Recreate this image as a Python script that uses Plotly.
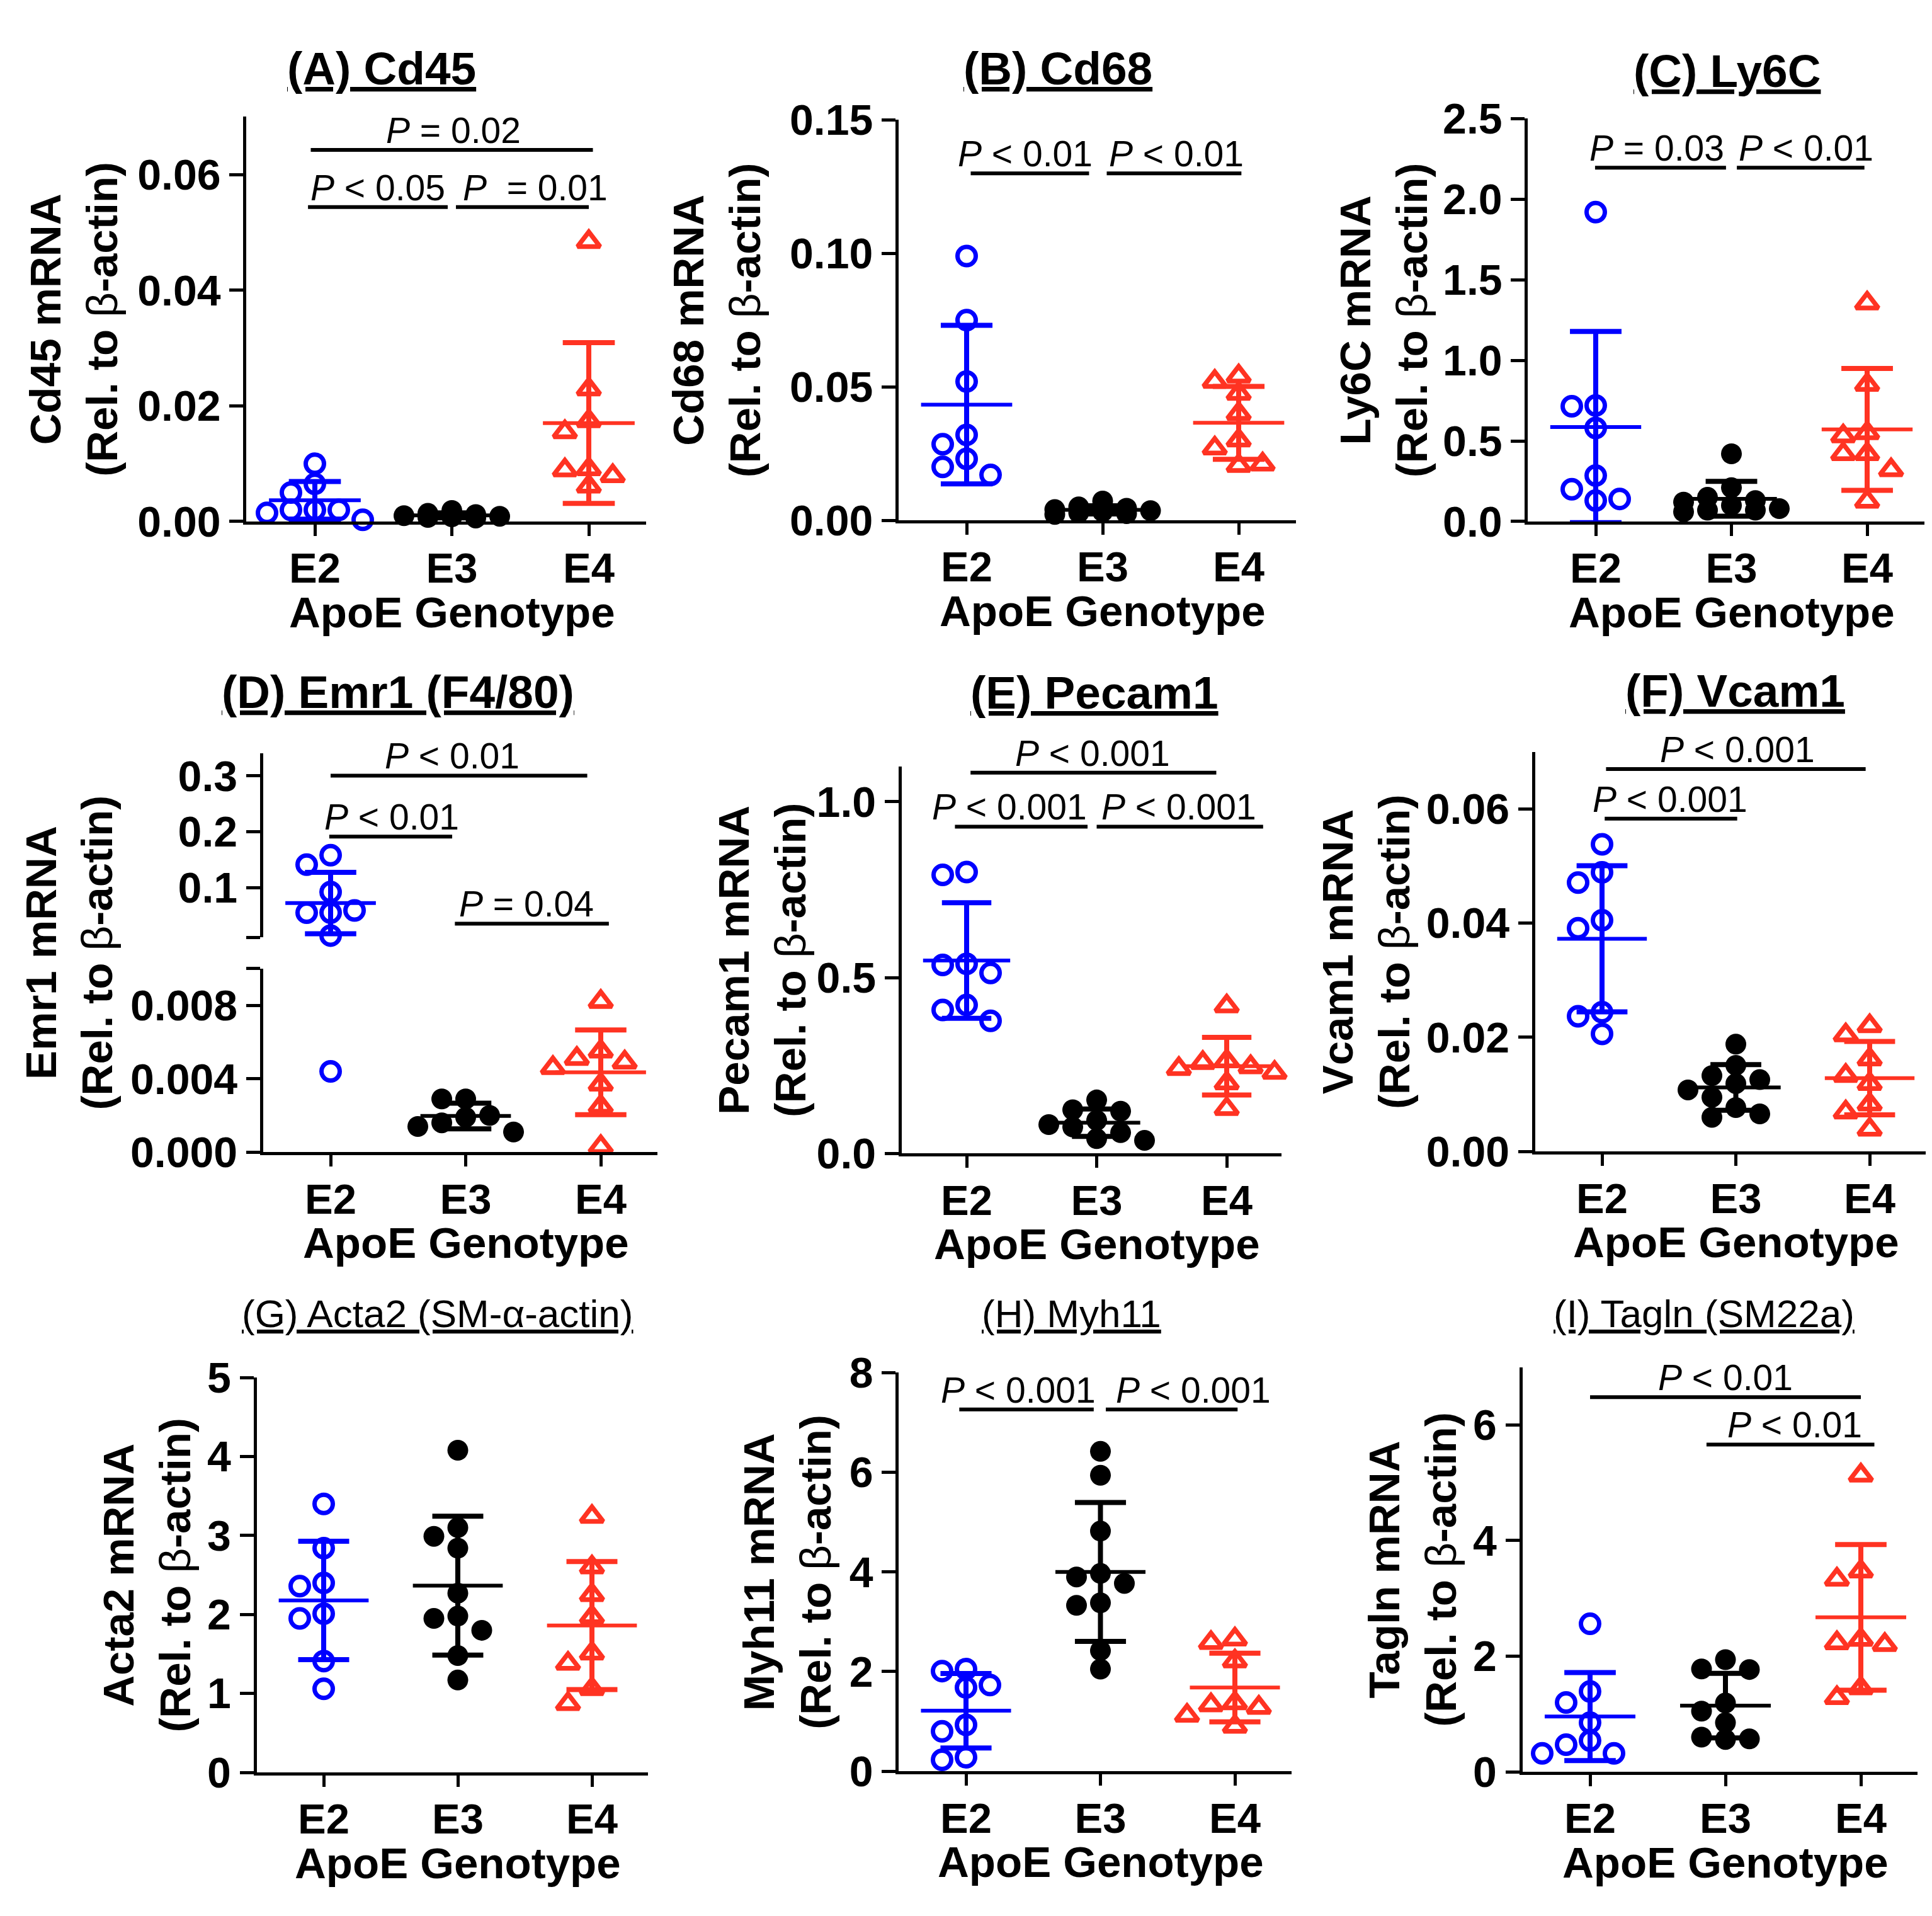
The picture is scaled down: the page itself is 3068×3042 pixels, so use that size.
import math
import plotly.graph_objects as go

W, H = 3068, 3042
FONT = "Liberation Sans, Arial, Helvetica, sans-serif"
BLUE, BLACK, RED = "#0000ff", "#000000", "#ff3322"
GROUPS = ["E2", "E3", "E4"]

# ---- values (rel. to beta-actin) ----
cd45_e2 = [0.0100, 0.0065, 0.0050, 0.0020, 0.0020, 0.0020, 0.0015, 0.0003]
cd45_e3 = [0.0019, 0.0014, 0.0012, 0.0010, 0.0009, 0.0008, 0.0007, 0.0006]
cd45_e4 = [0.0484, 0.0229, 0.0174, 0.0155, 0.0091, 0.0089, 0.0079, 0.0061]
cd45_pairs = [(0, 2), (0, 1), (1, 2)]
cd45_p = ["= 0.02", "&lt; 0.05", "&nbsp;= 0.01"]

cd68_e2 = [0.099, 0.075, 0.052, 0.032, 0.0285, 0.023, 0.020, 0.017]
cd68_e3 = [0.0072, 0.0050, 0.0045, 0.0040, 0.0036, 0.0032, 0.0028, 0.0025, 0.0022]
cd68_e4 = [0.054, 0.052, 0.0475, 0.040, 0.030, 0.027, 0.0205, 0.021]
cd68_pairs = [(0, 1), (1, 2)]
cd68_p = ["&lt; 0.01", "&lt; 0.01"]

ly6c_e2 = [1.92, 0.72, 0.715, 0.58, 0.285, 0.20, 0.13, 0.14]
ly6c_e3 = [0.42, 0.21, 0.15, 0.13, 0.12, 0.10, 0.08, 0.07, 0.07, 0.06]
ly6c_e4 = [1.355, 0.85, 0.55, 0.53, 0.42, 0.42, 0.32, 0.125]
ly6c_pairs = [(0, 1), (1, 2)]
ly6c_p = ["= 0.03", "&lt; 0.01"]

emr1_e2 = [0.158, 0.141, 0.092, 0.055, 0.055, 0.059, 0.014, 0.0044]
emr1_e3 = [0.0029, 0.0029, 0.0020, 0.0019, 0.0016, 0.0014, 0.0011]
emr1_e4 = [0.0082, 0.0055, 0.0051, 0.0049, 0.0046, 0.0037, 0.0025, 0.0003]
emr1_pairs = [(0, 2), (0, 1), (1, 2)]
emr1_p = ["&lt; 0.01", "&lt; 0.01", "= 0.04"]

pecam1_e2 = [0.80, 0.792, 0.539, 0.536, 0.513, 0.422, 0.408, 0.377]
pecam1_e3 = [0.152, 0.124, 0.12, 0.094, 0.082, 0.075, 0.059, 0.042, 0.037]
pecam1_e4 = [0.419, 0.263, 0.258, 0.246, 0.241, 0.23, 0.20, 0.127]
pecam1_pairs = [(0, 2), (0, 1), (1, 2)]
pecam1_p = ["&lt; 0.001", "&lt; 0.001", "&lt; 0.001"]

vcam1_e2 = [0.0538, 0.0489, 0.0471, 0.0405, 0.0391, 0.0244, 0.0237, 0.0206]
vcam1_e3 = [0.0188, 0.0151, 0.0133, 0.0126, 0.0119, 0.0108, 0.0095, 0.0077, 0.0066, 0.0060]
vcam1_e4 = [0.0220, 0.0204, 0.0162, 0.0133, 0.0119, 0.0083, 0.0069, 0.0039]
vcam1_pairs = [(0, 2), (0, 1)]
vcam1_p = ["&lt; 0.001", "&lt; 0.001"]

acta2_e2 = [3.40, 2.84, 2.40, 2.36, 2.01, 1.95, 1.41, 1.06]
acta2_e3 = [4.08, 3.10, 2.99, 2.84, 2.27, 1.98, 1.95, 1.80, 1.48, 1.17]
acta2_e4 = [3.24, 2.60, 2.25, 1.97, 1.51, 1.38, 1.06, 0.87]

myh11_e2 = [2.05, 2.01, 1.73, 1.68, 0.93, 0.80, 0.28, 0.23]
myh11_e3 = [6.42, 5.94, 4.82, 3.97, 3.90, 3.77, 3.38, 3.33, 2.42, 2.05]
myh11_e4 = [2.65, 2.58, 2.21, 1.37, 1.33, 1.28, 1.12, 0.90]
myh11_pairs = [(0, 1), (1, 2)]
myh11_p = ["&lt; 0.001", "&lt; 0.001"]

tagln_e2 = [2.56, 1.39, 1.20, 0.85, 0.54, 0.47, 0.32, 0.32]
tagln_e3 = [1.94, 1.78, 1.77, 1.19, 1.05, 0.85, 0.60, 0.57, 0.56]
tagln_e4 = [5.13, 3.47, 3.33, 2.29, 2.23, 2.20, 1.45, 1.28]
tagln_pairs = [(0, 2), (1, 2)]
tagln_p = ["&lt; 0.01", "&lt; 0.01"]


def seg(lo, hi, top, bot, ticks, labels):
    return dict(rng=(lo, hi), top=top, bot=bot, ticks=ticks, labels=labels)


def fmt(vals, d):
    return [f"{v:.{d}f}" for v in vals]


# layout of each panel, in page pixels; brk = (line x0, line x1, line y px, text x)
panels = [
    dict(title="(A) Cd45", gene="Cd45", data=(cd45_e2, cd45_e3, cd45_e4),
         pairs=cd45_pairs, pvals=cd45_p,
         brk=[(-0.03, 2.03, 197, 1.01), (-0.05, 0.97, 290, 0.46), (1.03, 2.0, 290, 1.61)],
         x0=492, sp=217.5, tx=598, ty=64, yt=110, row3=False,
         segs=[seg(0, 0.07, 143, 802, [0, 0.02, 0.04, 0.06], fmt([0, 0.02, 0.04, 0.06], 2))]),
    dict(title="(B) Cd68", gene="Cd68", data=(cd68_e2, cd68_e3, cd68_e4),
         pairs=cd68_pairs, pvals=cd68_p,
         brk=[(0.03, 0.90, 235, 0.43), (1.03, 2.02, 235, 1.54)],
         x0=1527, sp=216, tx=1672, ty=64, yt=1130, row3=False,
         segs=[seg(0, 0.15, 148, 800, [0, 0.05, 0.10, 0.15], fmt([0, 0.05, 0.10, 0.15], 2))]),
    dict(title="(C) Ly6C", gene="Ly6C", data=(ly6c_e2, ly6c_e3, ly6c_e4),
         pairs=ly6c_pairs, pvals=ly6c_p,
         brk=[(-0.005, 0.96, 226, 0.45), (1.04, 1.98, 226, 1.55)],
         x0=2526, sp=215.5, tx=2734, ty=68, yt=2189, row3=False,
         segs=[seg(0, 2.5, 146, 802, [0, 0.5, 1, 1.5, 2, 2.5], fmt([0, 0.5, 1, 1.5, 2, 2.5], 1))]),
    dict(title="(D) Emr1 (F4/80)", gene="Emr1", data=(emr1_e2, emr1_e3, emr1_e4),
         pairs=emr1_pairs, pvals=emr1_p,
         brk=[(0.0, 1.9, 1216, 0.90), (-0.01, 0.9, 1315, 0.45), (0.92, 2.06, 1457, 1.45)],
         x0=517, sp=214.5, tx=624, ty=1079, yt=102, row3=False,
         segs=[seg(0, 0.010, 1530, 1829, [0, 0.004, 0.008, 0.010], ["0.000", "0.004", "0.008", ""]),
               seg(0.011, 0.341, 1179, 1479, [0.011, 0.1, 0.2, 0.3], ["", "0.1", "0.2", "0.3"])]),
    dict(title="(E) Pecam1", gene="Pecam1", data=(pecam1_e2, pecam1_e3, pecam1_e4),
         pairs=pecam1_pairs, pvals=pecam1_p,
         brk=[(0.03, 1.92, 1211, 0.97), (-0.09, 0.93, 1299, 0.33), (1.0, 2.28, 1299, 1.63)],
         x0=1527, sp=206.5, tx=1730, ty=1081, yt=1202, row3=False,
         segs=[seg(0, 1.1, 1201, 1831, [0, 0.5, 1.0], fmt([0, 0.5, 1.0], 1))]),
    dict(title="(F) Vcam1", gene="Vcam1", data=(vcam1_e2, vcam1_e3, vcam1_e4),
         pairs=vcam1_pairs, pvals=vcam1_p,
         brk=[(0.03, 1.97, 1205, 1.01), (0.02, 1.01, 1286, 0.51)],
         x0=2536, sp=212.5, tx=2747, ty=1077, yt=2162, row3=False,
         segs=[seg(0, 0.07, 1177, 1828, [0, 0.02, 0.04, 0.06], fmt([0, 0.02, 0.04, 0.06], 2))]),
    dict(title="(G) Acta2 (SM-\u03b1-actin)", gene="Acta2", data=(acta2_e2, acta2_e3, acta2_e4),
         pairs=[], pvals=[], brk=[],
         x0=506, sp=213, tx=686, ty=2092, yt=226, row3=True,
         segs=[seg(0, 5, 2196, 2839, [0, 1, 2, 3, 4, 5], fmt([0, 1, 2, 3, 4, 5], 0))]),
    dict(title="(H) Myh11", gene="Myh11", data=(myh11_e2, myh11_e3, myh11_e4),
         pairs=myh11_pairs, pvals=myh11_p,
         brk=[(-0.05, 0.95, 2248, 0.39), (1.04, 2.02, 2248, 1.69)],
         x0=1526, sp=213.5, tx=1693, ty=2092, yt=1243, row3=True,
         segs=[seg(0, 8, 2188, 2837, [0, 2, 4, 6, 8], fmt([0, 2, 4, 6, 8], 0))]),
    dict(title="(I) Tagln (SM22a)", gene="Tagln", data=(tagln_e2, tagln_e3, tagln_e4),
         pairs=tagln_pairs, pvals=tagln_p,
         brk=[(0.0, 2.0, 2228, 1.0), (0.86, 2.1, 2305, 1.51)],
         x0=2517, sp=215, tx=2698, ty=2092, yt=2236, row3=True,
         segs=[seg(0, 7, 2179, 2838, [0, 2, 4, 6], fmt([0, 2, 4, 6], 0))]),
]

MARKERS = [
    dict(symbol="circle-open", size=29, color=BLUE, line=dict(width=7, color=BLUE)),
    dict(symbol="circle", size=33, color=BLACK, line=dict(width=0)),
    dict(symbol="triangle-up-open", size=31, color=RED, line=dict(width=7.5, color=RED)),
]
COLORS = [BLUE, BLACK, RED]
XR = (-0.5, 2.42)


def py(p):
    return 1 - p / H


def seg_index(segs, v):
    for k, s in enumerate(segs):
        if s["rng"][0] <= v <= s["rng"][1]:
            return k
    dist = [min(abs(v - s["rng"][0]), abs(v - s["rng"][1])) for s in segs]
    return dist.index(min(dist))


def to_px(s, v):
    lo, hi = s["rng"]
    return s["bot"] - (v - lo) / (hi - lo) * (s["bot"] - s["top"])


def swarm(ys, step=38.0, dmin=27.0, maxk=2):
    # simple column beeswarm in pixel space
    cands = [0]
    for k in range(1, maxk + 1):
        cands += [-k, k]
    placed, offs = [], []
    for y in ys:
        best, bestd = 0, -1.0
        for k in cands:
            x = k * step
            d = min((math.hypot(x - a, y - b) for a, b in placed), default=1e9)
            if d >= dmin:
                best = k
                break
            if d > bestd:
                best, bestd = k, d
        placed.append((best * step, y))
        offs.append(best * step)
    return offs


def mean_sd(v):
    m = sum(v) / len(v)
    sd = math.sqrt(sum((a - m) ** 2 for a in v) / (len(v) - 1))
    return m, sd


fig = go.Figure()
layout = dict(width=W, height=H, margin=dict(l=0, r=0, t=0, b=0),
              paper_bgcolor="white", plot_bgcolor="white", showlegend=False)
annotations, shapes = [], []
extra_y = 10

for n, p in enumerate(panels, start=1):
    xname = "x" if n == 1 else f"x{n}"
    xkey = "xaxis" if n == 1 else f"xaxis{n}"
    sp = p["sp"]
    left = p["x0"] + XR[0] * sp
    right = p["x0"] + XR[1] * sp
    segs = p["segs"]

    ynames = []
    for k, s in enumerate(segs):
        if k == 0:
            yn = "y" if n == 1 else f"y{n}"
            yk = "yaxis" if n == 1 else f"yaxis{n}"
        else:
            yn, yk = f"y{extra_y}", f"yaxis{extra_y}"
            extra_y += 1
        ynames.append(yn)
        layout[yk] = dict(
            domain=[py(s["bot"]), py(s["top"])], range=list(s["rng"]), anchor=xname,
            tickvals=s["ticks"], ticktext=s["labels"], ticks="outside", ticklen=22,
            tickwidth=5, tickcolor="black", showline=True, linewidth=5, linecolor="black",
            showgrid=False, zeroline=False,
            tickfont=dict(family=FONT, size=68, color="black", weight="bold"))

    layout[xkey] = dict(
        domain=[left / W, right / W], range=list(XR), anchor=ynames[0],
        tickvals=[0, 1, 2], ticktext=GROUPS, ticks="outside", ticklen=18, tickwidth=5,
        tickcolor="black", showline=True, linewidth=5, linecolor="black",
        showgrid=False, zeroline=False, ticklabelstandoff=-6,
        tickfont=dict(family=FONT, size=67, color="black", weight="bold"))

    for g, vals in enumerate(p["data"]):
        idx = [seg_index(segs, v) for v in vals]
        ypx = [to_px(segs[i], v) for i, v in zip(idx, vals)]
        offs = swarm(ypx)
        for k in range(len(segs)):
            xs = [g + o / sp for o, i in zip(offs, idx) if i == k]
            ys = [v for v, i in zip(vals, idx) if i == k]
            if xs:
                fig.add_trace(go.Scatter(x=xs, y=ys, mode="markers", xaxis=xname,
                                         yaxis=ynames[k], cliponaxis=False,
                                         marker=MARKERS[g], hoverinfo="skip"))
        m, sd = mean_sd(vals)
        lo, hi = m - sd, m + sd
        k = seg_index(segs, m)
        c, w = 0.19, 0.335
        fig.add_trace(go.Scatter(x=[g - w, g + w], y=[m, m], mode="lines",
                                 xaxis=xname, yaxis=ynames[k], hoverinfo="skip",
                                 line=dict(color=COLORS[g], width=6)))
        fig.add_trace(go.Scatter(
            x=[g, g, None, g - c, g + c, None, g - c, g + c],
            y=[lo, hi, None, hi, hi, None, lo, lo], mode="lines",
            xaxis=xname, yaxis=ynames[k], hoverinfo="skip",
            line=dict(color=COLORS[g], width=8)))

    # significance lines with P values
    for txt, (a, b, lev, tx) in zip(p["pvals"], p["brk"]):
        shapes.append(dict(type="line", xref=xname, yref="paper", x0=a, x1=b,
                           y0=py(lev), y1=py(lev), line=dict(color="black", width=6)))
        annotations.append(dict(xref=xname, yref="paper", x=tx, y=py(lev - 32),
                                text=f"<i>P</i> {txt}", showarrow=False,
                                xanchor="center", yanchor="middle",
                                font=dict(family=FONT, size=57, color="black")))

    # panel title
    if p["row3"]:
        tfont = dict(family=FONT, size=62, color="black")
    else:
        tfont = dict(family=FONT, size=73, color="black", weight="bold")
    annotations.append(dict(xref="paper", yref="paper", x=p["tx"] / W, y=py(p["ty"]),
                            text=f"<u>{p['title']}</u>", showarrow=False,
                            xanchor="center", yanchor="middle", font=tfont))

    # y title
    top = min(s["top"] for s in segs)
    bot = max(s["bot"] for s in segs)
    annotations.append(dict(
        xref="paper", yref="paper", x=p["yt"] / W, y=py((top + bot) / 2),
        text=f"{p['gene']} mRNA<br>(Rel. to <span style='font-weight:normal'>\u03b2</span>-actin)",
        textangle=-90, showarrow=False, xanchor="center", yanchor="middle",
        font=dict(family=FONT, size=69, color="black", weight="bold")))

    # x title
    annotations.append(dict(xref=xname, yref="paper", x=1, y=py(segs[0]["bot"] + 148),
                            text="ApoE Genotype", showarrow=False,
                            xanchor="center", yanchor="middle",
                            font=dict(family=FONT, size=69, color="black", weight="bold")))

layout["annotations"] = annotations
layout["shapes"] = shapes
fig.update_layout(**layout)
fig.write_html("out.html")
